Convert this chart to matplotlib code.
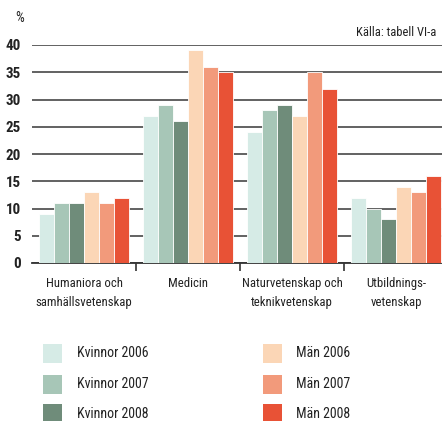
import matplotlib
matplotlib.use("Agg")
import matplotlib.pyplot as plt
from matplotlib.patches import Rectangle
import numpy as np

categories = ["Humaniora och\nsamhällsvetenskap", "Medicin",
              "Naturvetenskap och\nteknikvetenskap", "Utbildnings-\nvetenskap"]
series_names = ["Kvinnor 2006", "Kvinnor 2007", "Kvinnor 2008",
                "Män 2006", "Män 2007", "Män 2008"]
kvinnor_2006 = [9, 27, 24, 12]
kvinnor_2007 = [11, 29, 28, 10]
kvinnor_2008 = [11, 26, 29, 8]
man_2006 = [13, 39, 27, 14]
man_2007 = [11, 36, 35, 13]
man_2008 = [12, 35, 32, 16]
series = [kvinnor_2006, kvinnor_2007, kvinnor_2008, man_2006, man_2007, man_2008]
colors = ["#d6ebe6", "#a7c6b7", "#6f8c7a", "#fbd6b6", "#f29a7b", "#e85236"]
yticks = [0, 5, 10, 15, 20, 25, 30, 35, 40]

plt.rcParams["font.family"] = ["Roboto Condensed", "Liberation Sans Narrow", "Lato", "DejaVu Sans"]

fig = plt.figure(figsize=(4.42, 4.21), dpi=100)
ax = fig.add_axes([32/442, 1 - 263/421, 410/442, (263 - 45)/421])

n = len(series)
bw = 0.865 / n
x = np.arange(len(categories))
for i, (vals, c) in enumerate(zip(series, colors)):
    ax.bar(x - 0.865/2 + bw*(i + 0.5), vals, width=bw, color=c,
           edgecolor="white", linewidth=0.6, zorder=3)

ax.set_xlim(-0.5, -0.5 + 410/104)
ax.set_ylim(0, 40)
ax.set_yticks(yticks)
ax.set_yticklabels([str(v) for v in yticks], fontsize=10.8, fontweight="bold", color="#222222")
ax.yaxis.grid(True, color="#555555", linewidth=1.3, zorder=0)
ax.set_axisbelow(True)
ax.tick_params(axis="y", length=0, pad=8)
for s in ["top", "right", "left"]:
    ax.spines[s].set_visible(False)
ax.spines["bottom"].set_color("#333333")
ax.spines["bottom"].set_linewidth(1.3)
ax.set_xticks([0.5, 1.5, 2.5])
ax.set_xticklabels([])
ax.tick_params(axis="x", length=6, width=1.2, color="#333333")

for xi, lab in zip(x, categories):
    ax.text(xi, -2.6, lab, ha="center", va="top", fontsize=9.2,
            color="#222222", linespacing=1.55)

fig.text(20/442, 1 - 18/421, "%", ha="center", va="center", fontsize=10, color="#222222")
fig.text(436/442, 1 - 33/421, "Källa: tabell VI-a", ha="right", va="center",
         fontsize=9, color="#222222")

# legend
rows = [353, 384, 414]
cols = [(43, 77), (263, 296)]
for k, (name, c) in enumerate(zip(series_names, colors)):
    col = k // 3
    row = k % 3
    sx, tx = cols[col]
    yc = rows[row]
    fig.add_artist(Rectangle((sx/442, 1 - (yc + 9.5)/421), 19/442, 19/421,
                             transform=fig.transFigure, facecolor=c, edgecolor="none"))
    fig.text(tx/442, 1 - yc/421, name, ha="left", va="center", fontsize=10, color="#222222")

fig.savefig("out.png", dpi=100)
